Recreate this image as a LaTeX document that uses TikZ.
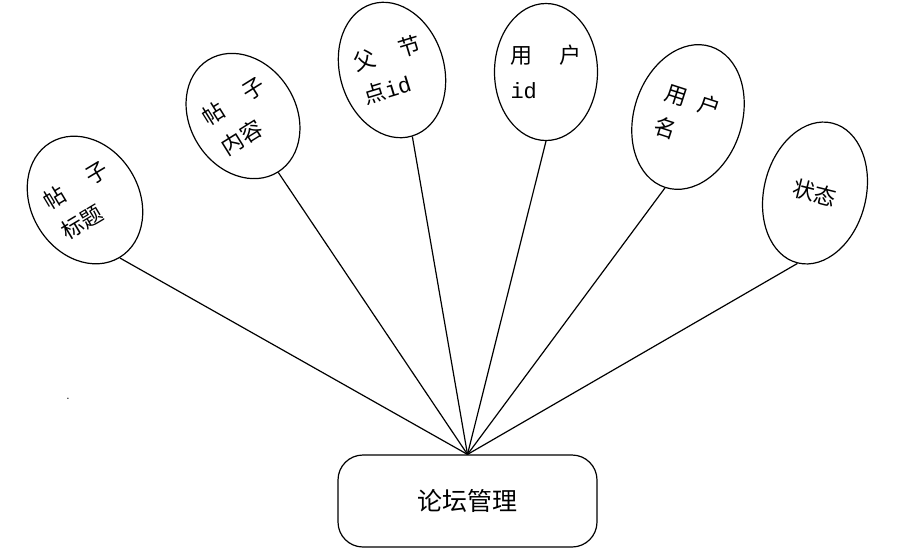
\documentclass[tikz,border=0pt]{standalone}
\usepackage{fontspec}
\usepackage{tikz}
\usetikzlibrary{shapes.geometric}
\newfontfamily\cjk{Noto Sans CJK SC}
\newfontfamily\latin{Liberation Mono}

\begin{document}
\begin{tikzpicture}[x=1pt, y=-1pt,
    attr/.style={draw, ellipse, line width=1.2pt, inner sep=0pt, align=left,
      font=\cjk\fontsize{22}{35}\selectfont},
    entity/.style={draw, rounded corners=25pt, line width=1.2pt,
      minimum width=259pt, minimum height=92pt, font=\cjk\fontsize{25}{30}\selectfont}]
  \useasboundingbox (0,0) rectangle (911,555);
  \node[attr, rotate=31, minimum width=108pt, minimum height=134pt] (a1) at (85,200)
    {帖\hspace{27pt}子\\标题};
  \node[attr, rotate=32, minimum width=106pt, minimum height=132pt] (a2) at (243,116)
    {帖\hspace{25pt}子\\内容};
  \node[attr, rotate=17, minimum width=104pt, minimum height=138pt] (a3) at (392,70)
    {父\hspace{25pt}节\\点{\latin id}};
  \node[attr, minimum width=103pt, minimum height=137pt] (a4) at (546,72)
    {用\hspace{27pt}户\\{\latin id}};
  \node[attr, rotate=-18, minimum width=108pt, minimum height=148pt] (a5) at (688,117)
    {用\hspace{13pt}户\\名};
  \node[attr, rotate=-14, minimum width=102pt, minimum height=144pt] (a6) at (815,193)
    {状态};
  \node[entity] (mgmt) at (467.5,501) {论坛管理};
  \node[anchor=base, inner sep=0pt, font=\fontsize{14}{14}\selectfont] (dot) at (68,399) {.};
  \foreach \i in {1,...,6}
    \draw[line width=1.2pt] (a\i.south) -- (mgmt.north);
\end{tikzpicture}
\end{document}
